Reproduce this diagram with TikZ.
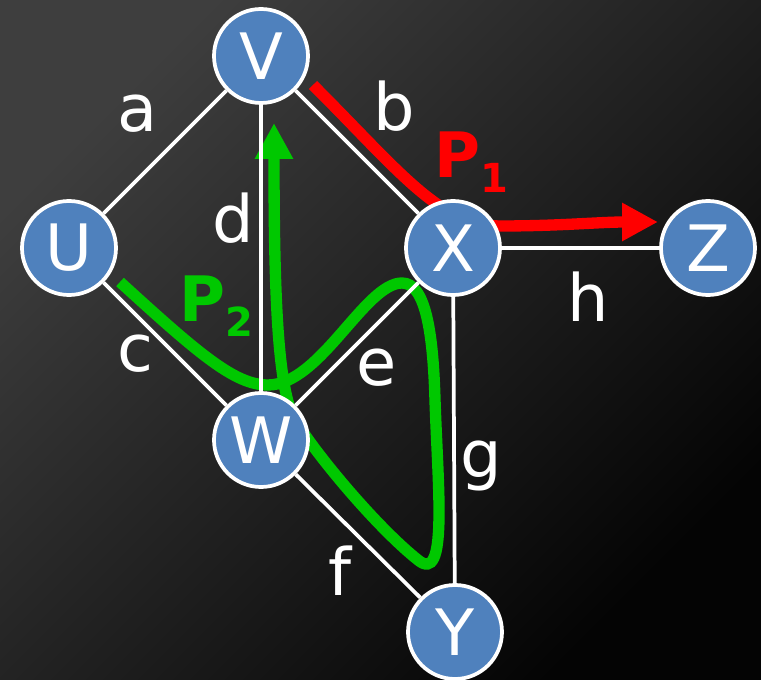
\documentclass[tikz,border=0pt]{standalone}
\usepackage{fontspec}
\setmainfont{DejaVu Sans}
\usepackage{xcolor}
\usetikzlibrary{arrows.meta}
\definecolor{nodeblue}{HTML}{4F81BD}
\definecolor{walkred}{HTML}{FF0000}
\definecolor{walkgreen}{HTML}{00C800}
\definecolor{bgtop}{HTML}{3E3E3E}
\definecolor{bgbottom}{HTML}{040404}
\pgfdeclarelayer{back}
\pgfdeclarelayer{edges}
\pgfsetlayers{back,edges,main}
\tikzset{
    graph-node/.style = {circle, draw=white, fill=nodeblue, line width=2.8pt, minimum size=70.5pt, inner sep=0pt, text=white, font=\fontsize{48}{48}\selectfont},
    graph-edge/.style = {draw=white, line width=2.8pt},
    edge-label/.style = {text=white, anchor=base, inner sep=0pt, font=\fontsize{49}{49}\selectfont},
    walk-label/.style = {anchor=base west, inner sep=0pt, font=\fontsize{47}{47}\selectfont\bfseries},
    walk/.style = {line width=8.5pt, -{Triangle[length=27pt, width=27pt]}},
}
\newcommand{\walksub}[1]{\raisebox{-11pt}{\fontsize{30}{30}\selectfont #1}}

\begin{document}
\begin{tikzpicture}[x=0.75pt, y=-0.75pt]
\begin{pgfonlayer}{back}
\shade[top color=bgtop, bottom color=bgbottom, shading angle=45] (0,0) rectangle (761,680);
\end{pgfonlayer}
\useasboundingbox (0,0) rectangle (761,680);

\node[graph-node] (V) at (261,56) {V};
\node[graph-node] (U) at (69,248) {U};
\node[graph-node] (X) at (453,248) {X};
\node[graph-node] (Z) at (708,248) {Z};
\node[graph-node] (W) at (261,440) {W};
\node[graph-node] (Y) at (455,632) {Y};

\begin{pgfonlayer}{edges}
\draw[graph-edge] (U) -- (V);
\draw[graph-edge] (V) -- (X);
\draw[graph-edge] (V) -- (W);
\draw[graph-edge] (U) -- (W);
\draw[graph-edge] (W) -- (X);
\draw[graph-edge] (X) -- (Z);
\draw[graph-edge] (X) -- (Y);
\draw[graph-edge] (W) -- (Y);
\end{pgfonlayer}

\node[edge-label] (a) at (138,132) {a};
\node[edge-label] (b) at (394,131) {b};
\node[edge-label] (d) at (233,243) {d};
\node[edge-label] (c) at (135,372) {c};
\node[edge-label] (e) at (377,386) {e};
\node[edge-label] (h) at (588,322) {h};
\node[edge-label] (g) at (481,478) {g};
\node[edge-label] (f) at (340,596) {f};

\begin{pgfonlayer}{back}
\coordinate (p1-start) at (313,85);
\coordinate (p1-end) at (658,222);
\draw[walk, walkred] (p1-start) .. controls (400,172) and (440,226) .. (500,226) .. controls (560,226) and (600,222) .. (p1-end);
\coordinate (p2-start) at (120,282);
\coordinate (p2-end) at (274,123);
\draw[walk, walkgreen] (p2-start) .. controls (200,355) and (235,385) .. (268,385) .. controls (320,385) and (365,283) .. (402,283) .. controls (425,283) and (433,330) .. (435,400) .. controls (438,490) and (448,585) .. (418,560) .. controls (380,530) and (320,460) .. (295,420) .. controls (278,390) and (274,300) .. (p2-end);
\end{pgfonlayer}

\node[walk-label, text=walkred] (P1) at (434,178) {P\walksub{1}};
\node[walk-label, text=walkgreen] (P2) at (179,322) {P\walksub{2}};
\end{tikzpicture}
\end{document}
